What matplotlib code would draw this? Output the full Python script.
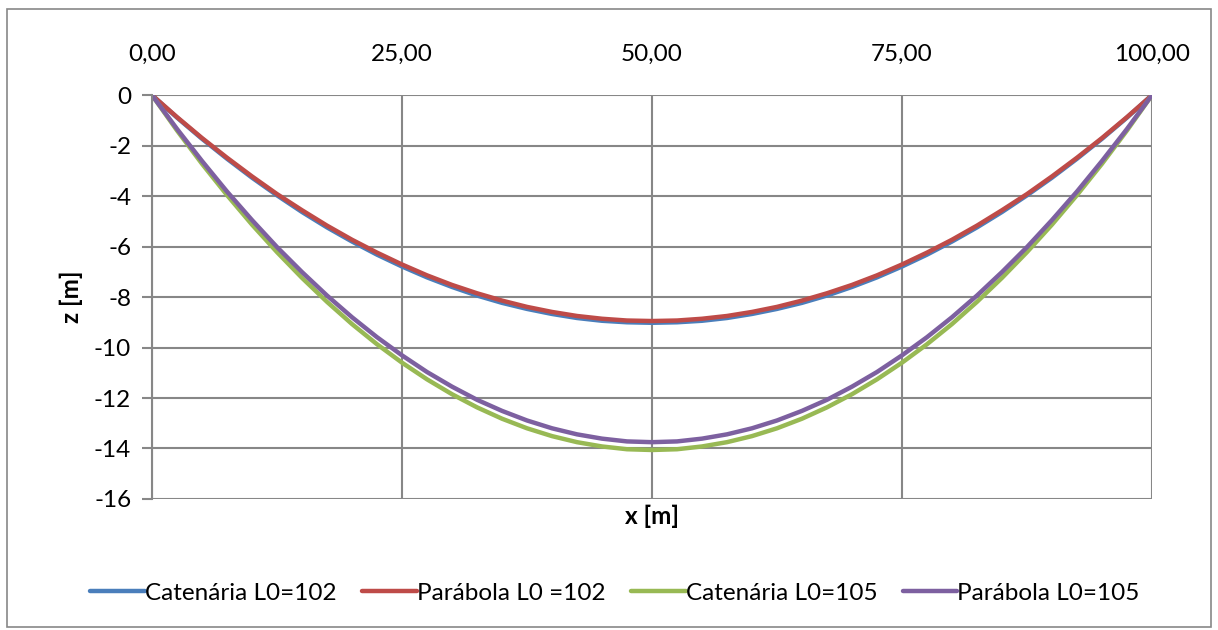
import matplotlib.pyplot as plt
from matplotlib.patches import Rectangle
from matplotlib.ticker import FuncFormatter

plt.rcParams['font.family'] = ['Lato', 'DejaVu Sans']
plt.rcParams['axes.unicode_minus'] = False

# positions along the span [m]
x = [0, 2.5, 5, 7.5, 10, 12.5, 15, 17.5, 20, 22.5, 25, 27.5, 30, 32.5, 35, 37.5, 40, 42.5, 45, 47.5,
     50, 52.5, 55, 57.5, 60, 62.5, 65, 67.5, 70, 72.5, 75, 77.5, 80, 82.5, 85, 87.5, 90, 92.5, 95, 97.5, 100]

# sag curves z [m]
cat_102 = [0, -0.89, -1.73, -2.52, -3.27, -3.97, -4.63, -5.24, -5.80, -6.32, -6.79, -7.22, -7.60, -7.94,
           -8.23, -8.47, -8.67, -8.83, -8.94, -9.00, -9.02, -9.00, -8.94, -8.83, -8.67, -8.47, -8.23,
           -7.94, -7.60, -7.22, -6.79, -6.32, -5.80, -5.24, -4.63, -3.97, -3.27, -2.52, -1.73, -0.89, 0]
par_102 = [0, -0.87, -1.70, -2.48, -3.22, -3.92, -4.56, -5.17, -5.73, -6.24, -6.71, -7.14, -7.52, -7.85,
           -8.14, -8.39, -8.59, -8.75, -8.86, -8.93, -8.95, -8.93, -8.86, -8.75, -8.59, -8.39, -8.14,
           -7.85, -7.52, -7.14, -6.71, -6.24, -5.73, -5.17, -4.56, -3.92, -3.22, -2.48, -1.70, -0.87, 0]
cat_105 = [0, -1.40, -2.72, -3.96, -5.13, -6.22, -7.24, -8.19, -9.07, -9.87, -10.60, -11.26, -11.85,
           -12.37, -12.82, -13.20, -13.51, -13.75, -13.92, -14.03, -14.06, -14.03, -13.92, -13.75,
           -13.51, -13.20, -12.82, -12.37, -11.85, -11.26, -10.60, -9.87, -9.07, -8.19, -7.24, -6.22,
           -5.13, -3.96, -2.72, -1.40, 0]
par_105 = [0, -1.34, -2.61, -3.82, -4.95, -6.02, -7.01, -7.94, -8.80, -9.59, -10.31, -10.97, -11.55,
           -12.07, -12.51, -12.89, -13.20, -13.44, -13.61, -13.72, -13.75, -13.72, -13.61, -13.44,
           -13.20, -12.89, -12.51, -12.07, -11.55, -10.97, -10.31, -9.59, -8.80, -7.94, -7.01, -6.02,
           -4.95, -3.82, -2.61, -1.34, 0]

labels = ['Catenária L0=102', 'Parábola L0 =102', 'Catenária L0=105', 'Parábola L0=105']
colors = ['#4A7EBB', '#BE4B48', '#98B954', '#7D60A0']

xticks = [0, 25, 50, 75, 100]
yticks = list(range(0, -17, -2))

fig = plt.figure(figsize=(12.18, 6.3), dpi=100)
ax = fig.add_axes([0.1248, 0.208, 0.821, 0.641])

for z, lab, c in zip([cat_102, par_102, cat_105, par_105], labels, colors):
    ax.plot(x, z, color=c, lw=3.2, label=lab, solid_capstyle='round')

ax.set_xlim(0, 100)
ax.set_ylim(-16, 0)
ax.set_xticks(xticks)
ax.set_yticks(yticks)
ax.xaxis.tick_top()
ax.xaxis.set_major_formatter(FuncFormatter(lambda v, p: f'{v:.2f}'.replace('.', ',')))
ax.tick_params(axis='x', length=0, pad=22, labelsize=17.5)
ax.tick_params(axis='y', length=7, width=1.5, color='#878787', pad=8, labelsize=17.5)
ax.grid(True, color='#878787', lw=1.5)
ax.set_axisbelow(True)
for s in ['top', 'right', 'bottom']:
    ax.spines[s].set_visible(False)
ax.spines['left'].set_color('#878787')
ax.spines['left'].set_linewidth(1.5)

ax.set_xlabel('x [m]', fontsize=17.5, fontweight='bold', labelpad=4)
ax.xaxis.set_label_position('bottom')
ax.set_ylabel('z [m]', fontsize=17.5, fontweight='bold', labelpad=8)

fig.legend(loc='center', bbox_to_anchor=(0.505, 0.058), ncol=4, frameon=False,
           fontsize=17.5, handlelength=2.25, handletextpad=0.0, columnspacing=1.05)

fig.patches.append(Rectangle((0.006, 0.005), 0.988, 0.981, transform=fig.transFigure,
                             fill=False, edgecolor='#878787', lw=1.2))

fig.savefig('out.png', dpi=100)
